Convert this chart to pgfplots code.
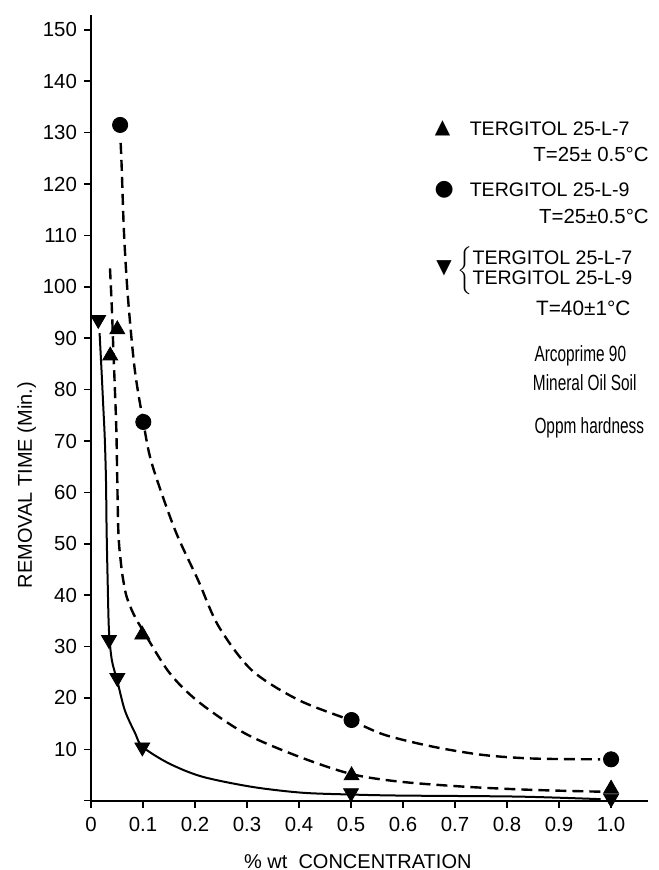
\documentclass[border=0pt]{standalone}
\usepackage{fontspec}
\setmainfont{Liberation Sans}
\newfontfamily\symfont{DejaVu Sans}
\newfontfamily\narrowfont[FakeStretch=0.7]{Liberation Sans}
\usepackage{pgfplots}
\pgfplotsset{compat=1.18}
\begin{document}
\begin{tikzpicture}
\path[use as bounding box] (0,0) rectangle (329pt,435pt);
\begin{axis}[
  at={(45.5pt,34.65pt)}, anchor=south west,
  scale only axis, width=278.5pt, height=392.85pt,
  xmin=0, xmax=1.071, ymin=0, ymax=152.9,
  axis x line=bottom, axis y line=left,
  axis line style={-, line width=1pt},
  clip=false,
  tick align=outside, major tick length=3.5pt,
  every tick/.style={black, line width=0.8pt},
  xtick={0,0.1,0.2,0.3,0.4,0.5,0.6,0.7,0.8,0.9,1.0},
  xticklabels={0,0.1,0.2,0.3,0.4,0.5,0.6,0.7,0.8,0.9,1.0},
  ytick={0,10,20,30,40,50,60,70,80,90,100,110,120,130,140,150},
  yticklabels={,10,20,30,40,50,60,70,80,90,100,110,120,130,140,150},
  tick label style={font=\fontsize{10.2}{12}\selectfont},
  xticklabel style={yshift=-1pt},
  xlabel={\% wt\ \ CONCENTRATION},
  ylabel={REMOVAL TIME (Min.)},
  every axis x label/.style={at={(rel axis cs:0.479,-0.0857)}, anchor=base, font=\fontsize{10}{12}\selectfont},
  every axis y label/.style={at={(rel axis cs:-0.106,0.4016)}, rotate=90, anchor=base, font=\fontsize{10}{12}\selectfont},
]
% curve: TERGITOL 25-L-9, 25 C (dashed)
\addplot[black, line width=1.2pt, dash pattern=on 5.5pt off 3pt, smooth, tension=0.5] coordinates {
(0.057,128) (0.059,123.3) (0.0635,110.4) (0.071,98) (0.084,84) (0.1006,73.7)
(0.117,65.6) (0.1615,52.7) (0.206,42.9) (0.245,34) (0.309,25.4) (0.399,19.6)
(0.5,15.6) (0.565,12.8) (0.658,10.5) (0.754,8.9) (0.851,8.2) (0.979,8.05)
};
% curve: TERGITOL 25-L-7, 25 C (dashed)
\addplot[black, line width=1.2pt, dash pattern=on 5.5pt off 3pt, smooth, tension=0.5] coordinates {
(0.0365,103.6) (0.040,96.1) (0.043,87.7) (0.046,79.9) (0.049,71) (0.0525,52.7)
(0.0576,46.2) (0.062,42.9) (0.0685,39.7) (0.081,36.5) (0.097,33.6)
(0.15,25) (0.206,19.3) (0.296,13.1) (0.399,8.6) (0.5,5.2) (0.594,3.7)
(0.722,2.7) (0.85,2.1) (0.98,1.75)
};
% curve: 40 C (solid)
\addplot[black, line width=1pt, smooth, tension=0.5] coordinates {
(0.0165,91) (0.0205,83.2) (0.0236,76.7) (0.0265,70.5) (0.0288,62.4) (0.030,52.7)
(0.032,42.9) (0.0345,33.2) (0.04,27.4) (0.0506,23.3) (0.065,17.6) (0.085,13.1)
(0.099,10.5) (0.149,7.3) (0.213,4.7) (0.309,2.7) (0.405,1.56) (0.5,1.2)
(0.594,1.0) (0.82,0.8) (0.98,0.3)
};
% markers
\addplot[only marks, mark=triangle*, mark size=4.3pt, black] coordinates {
(0.037,86.6) (0.0506,91.7) (0.0985,32.3) (0.501,4.9) (1.0,2.3)
};
\addplot[only marks, mark=*, mark size=3.8pt, black] coordinates {
(0.056,131.5) (0.1006,73.7) (0.501,15.7) (1.0,8.05)
};
\addplot[only marks, mark=triangle*, mark size=4.3pt, black, mark options={rotate=180}] coordinates {
(0.014,93.6) (0.0346,31.3) (0.0506,23.9) (0.0987,10.4) (0.5,1.5) (1.0,0.4)
};
% legend / annotations
\node[anchor=center, font=\symfont\fontsize{10}{12}\selectfont] at (axis cs:0.676,130.8) {▲};
\node[anchor=base west, font=\fontsize{9.8}{10}\selectfont, inner sep=0pt] at (axis cs:0.7275,129.5) {TERGITOL 25-L-7};
\node[anchor=base east, font=\fontsize{10.2}{10}\selectfont, inner sep=0pt] at (axis cs:1.073,124.3) {T=25± 0.5°C};
\node[anchor=center, font=\symfont\fontsize{11}{12}\selectfont] at (axis cs:0.679,118.8) {●};
\node[anchor=base west, font=\fontsize{9.8}{10}\selectfont, inner sep=0pt] at (axis cs:0.7275,117.5) {TERGITOL 25-L-9};
\node[anchor=base east, font=\fontsize{10.2}{10}\selectfont, inner sep=0pt] at (axis cs:1.073,112.3) {T=25±0.5°C};
\node[anchor=center, font=\symfont\fontsize{10}{12}\selectfont] at (axis cs:0.679,103.6) {▼};
\node[anchor=west, font=\fontsize{9.8}{10}\selectfont, inner sep=0pt] at (axis cs:0.704,103.2)
  {$\left\{\vphantom{\rule{0pt}{9pt}}\begin{tabular}{@{}l@{}}TERGITOL 25-L-7\\TERGITOL 25-L-9\end{tabular}\right.$};
\node[anchor=base east, font=\fontsize{10.4}{10}\selectfont, inner sep=0pt] at (axis cs:1.038,94.5) {T=40±1°C};
\node[anchor=base west, font=\narrowfont\fontsize{11}{10}\selectfont, inner sep=0pt] at (axis cs:0.852,85.4) {Arcoprime 90};
\node[anchor=base west, font=\narrowfont\fontsize{11}{10}\selectfont, inner sep=0pt] at (axis cs:0.849,79.8) {Mineral Oil Soil};
\node[anchor=base west, font=\narrowfont\fontsize{11}{10}\selectfont, inner sep=0pt] at (axis cs:0.852,71.4) {Oppm hardness};
\end{axis}
\end{tikzpicture}
\end{document}
